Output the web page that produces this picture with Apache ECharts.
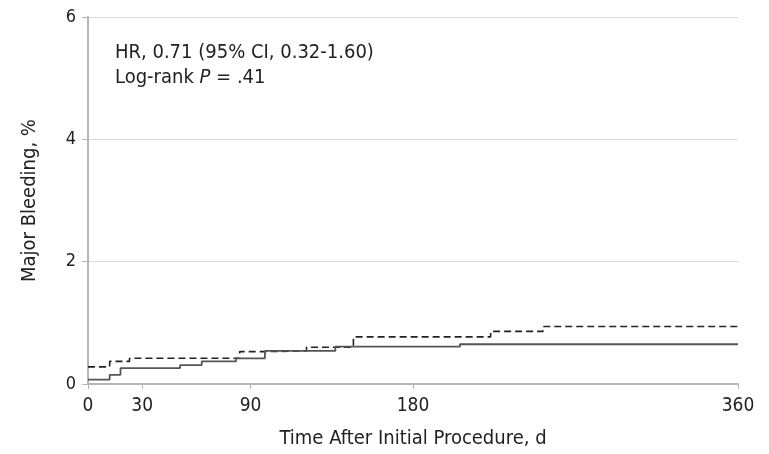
<!DOCTYPE html>
<html>
<head>
<meta charset="utf-8">
<style type="text/css">
body{margin:0; background:#fff}
#chart{width:769px; height:454px}
</style>
</head>
<body>
<div id="chart"></div>
<script src="https://cdn.jsdelivr.net/npm/echarts@6/dist/echarts.min.js"></script>
<script type="text/javascript">
// step points: [day, cumulative major bleeding %]
var dashedSteps = [[0, 0.28], [12, 0.37], [23, 0.42], [84, 0.53], [98, 0.54], [121, 0.60], [147, 0.77], [223, 0.86], [252, 0.94], [360, 0.94]];
var solidSteps = [[0, 0.07], [12, 0.15], [18, 0.26], [51, 0.31], [63, 0.37], [82, 0.42], [98, 0.54], [137, 0.61], [206, 0.65], [360, 0.65]];
var xTicks = [0, 30, 90, 180, 360];
var yTicks = [0, 2, 4, 6];

var FONT = '"Liberation Sans Narrow", "DejaVu Sans Condensed", Roboto, sans-serif';
var chart = echarts.init(document.getElementById('chart'));

var option = {
    animation: false,
    grid: {left: 88, right: 31, top: 17, bottom: 69},
    xAxis: {
        type: 'value',
        min: 0,
        max: 360,
        name: 'Time After Initial Procedure, d',
        nameLocation: 'middle',
        nameGap: 45,
        nameTextStyle: {fontFamily: FONT, fontSize: 20, color: '#222'},
        axisLine: {show: true, lineStyle: {color: '#b5b5b5', width: 2}},
        axisTick: {show: true, length: 5, customValues: xTicks, lineStyle: {color: '#b5b5b5'}},
        axisLabel: {customValues: xTicks, fontFamily: FONT, fontSize: 19, color: '#222', margin: 13},
        splitLine: {show: false}
    },
    yAxis: {
        type: 'value',
        min: 0,
        max: 6,
        interval: 2,
        name: 'Major Bleeding, %',
        nameLocation: 'middle',
        nameGap: 48,
        nameTextStyle: {fontFamily: FONT, fontSize: 20, color: '#222'},
        axisLine: {show: true, lineStyle: {color: '#b5b5b5', width: 2}},
        axisTick: {show: true, length: 6, lineStyle: {color: '#b5b5b5'}},
        axisLabel: {fontFamily: FONT, fontSize: 18, color: '#222', margin: 12},
        splitLine: {show: true, lineStyle: {color: '#d9d9d9', width: 1}}
    },
    graphic: [{
        type: 'text',
        left: 115,
        top: 40,
        style: {
            text: 'HR, 0.71 (95% CI, 0.32-1.60)\nLog-rank {i|P} = .41',
            fontFamily: FONT,
            fontSize: 20,
            lineHeight: 25,
            fill: '#222',
            rich: {i: {fontStyle: 'italic', fontFamily: FONT, fontSize: 20, fill: '#222'}}
        }
    }],
    series: [
        {
            name: 'dashed',
            type: 'line',
            step: 'end',
            symbol: 'none',
            data: dashedSteps,
            lineStyle: {color: '#222', width: 1.6, type: [7, 4]}
        },
        {
            name: 'solid',
            type: 'line',
            step: 'end',
            symbol: 'none',
            data: solidSteps,
            lineStyle: {color: '#555', width: 1.8}
        }
    ]
};
chart.setOption(option);
</script>
</body>
</html>
